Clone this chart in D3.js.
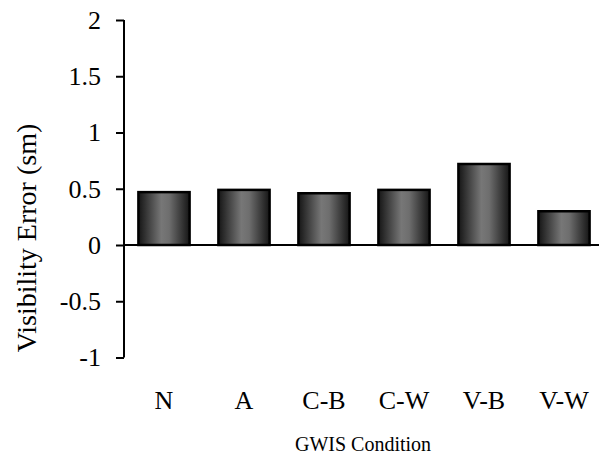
<!DOCTYPE html>
<html>
<head>
<meta charset="utf-8">
<script src="https://cdn.jsdelivr.net/npm/d3@7"></script>
<style>
html,body{margin:0;padding:0;background:#fff;}
svg{display:block;}
</style>
</head>
<body>
<svg id="chart" width="600" height="455"></svg>
<script>
const categories = ["N", "A", "C-B", "C-W", "V-B", "V-W"];
const values = [0.47, 0.49, 0.46, 0.49, 0.72, 0.30];
const yTicks = [-1, -0.5, 0, 0.5, 1, 1.5, 2];
const yLabel = "Visibility Error (sm)";
const xLabel = "GWIS Condition";

const svg = d3.select("#chart");
const font = "Liberation Serif";

const x = d3.scaleBand().domain(categories).range([124, 604]).paddingInner(0.36).paddingOuter(0.18);
const y = d3.scaleLinear().domain([-1, 2]).range([357.5, 20]);

const defs = svg.append("defs");
const grad = defs.append("linearGradient").attr("id", "barGrad").attr("x1", "0").attr("x2", "1").attr("y1", "0").attr("y2", "0");
grad.append("stop").attr("offset", "0%").attr("stop-color", "#151515");
grad.append("stop").attr("offset", "45%").attr("stop-color", "#777777");
grad.append("stop").attr("offset", "60%").attr("stop-color", "#6e6e6e");
grad.append("stop").attr("offset", "100%").attr("stop-color", "#151515");

// bars
svg.append("g").selectAll("rect").data(categories).join("rect")
  .attr("x", d => x(d))
  .attr("width", x.bandwidth())
  .attr("y", (d, i) => y(Math.max(0, values[i])))
  .attr("height", (d, i) => Math.abs(y(values[i]) - y(0)))
  .attr("fill", "url(#barGrad)")
  .attr("stroke", "#000")
  .attr("stroke-width", 2.5);

// y axis
const yAxis = d3.axisLeft(y).tickValues(yTicks).tickSize(8).tickPadding(15)
  .tickFormat(d => String(d));
const gy = svg.append("g").attr("transform", "translate(124,0)").call(yAxis)
  .attr("font-family", font).attr("font-size", 26);
gy.select(".domain").attr("stroke", "#000").attr("stroke-width", 2).attr("d", `M0,${y(2)}V${y(-1)}`);
gy.selectAll(".tick line").attr("stroke", "#000").attr("stroke-width", 2);
gy.selectAll(".tick text").attr("fill", "#000");

// zero baseline
svg.append("line").attr("x1", 124).attr("x2", 599).attr("y1", y(0)).attr("y2", y(0))
  .attr("stroke", "#000").attr("stroke-width", 2);

// x category labels
svg.append("g").selectAll("text").data(categories).join("text")
  .attr("x", d => x(d) + x.bandwidth() / 2)
  .attr("y", 409)
  .attr("text-anchor", "middle")
  .attr("font-family", font).attr("font-size", 26)
  .text(d => d);

// axis titles
svg.append("text").attr("x", 363).attr("y", 451).attr("text-anchor", "middle")
  .attr("font-family", font).attr("font-size", 20).text(xLabel);

svg.append("text").attr("transform", "translate(36,238) rotate(-90)").attr("text-anchor", "middle")
  .attr("font-family", font).attr("font-size", 28).text(yLabel);
</script>
</body>
</html>
